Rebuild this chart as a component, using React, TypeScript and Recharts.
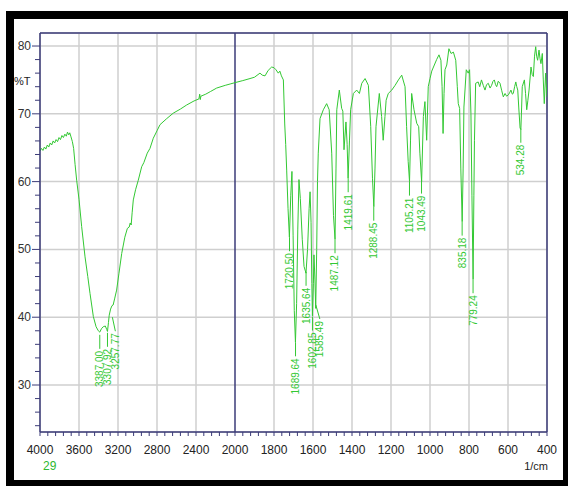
import React from 'react';
import { ComposedChart, Line, Scatter, XAxis, YAxis, CartesianGrid, ReferenceLine } from 'recharts';

// spectrum: wavenumber (1/cm) and %T
const waveNumbers = [
  4000, 3985, 3970, 3955, 3940, 3925, 3910, 3895, 3880, 3865, 3850, 3835, 3820, 3805, 3790, 3775, 3760, 3745, 3730, 3718,
  3705, 3695, 3682, 3668, 3655, 3640, 3624, 3600, 3573, 3538, 3510, 3487, 3453, 3425, 3402, 3387, 3370, 3351, 3330, 3316,
  3308, 3298, 3290, 3276, 3262, 3250, 3235, 3214, 3190, 3162, 3130, 3104, 3085, 3075, 3065, 3055, 3043, 3020, 2992, 2957,
  2935, 2900, 2872, 2838, 2800, 2769, 2700, 2633, 2560, 2496, 2420, 2370, 2362, 2356, 2350, 2300, 2250, 2188, 2100, 2050,
  2000, 1960, 1923, 1900, 1872, 1860, 1846, 1830, 1812, 1800, 1790, 1778, 1770, 1762, 1752, 1745, 1740, 1735, 1728, 1721,
  1714, 1708, 1702, 1696, 1690, 1684, 1678, 1672, 1665, 1655, 1646, 1636, 1628, 1620, 1615, 1610, 1606, 1603, 1598, 1595,
  1590, 1586, 1581, 1577, 1573, 1564, 1547, 1530, 1517, 1504, 1495, 1487, 1482, 1478, 1465, 1453, 1447, 1441, 1431, 1425,
  1420, 1413, 1407, 1393, 1376, 1362, 1350, 1333, 1316, 1304, 1295, 1288, 1282, 1277, 1260, 1248, 1240, 1231, 1225, 1214,
  1196, 1179, 1162, 1145, 1128, 1120, 1112, 1105, 1100, 1094, 1082, 1068, 1058, 1052, 1043, 1034, 1026, 1017, 1009, 1000,
  991, 966, 954, 944, 938, 933, 928, 923, 914, 903, 892, 880, 868, 860, 855, 848, 842, 835, 830, 826,
  814, 804, 797, 790, 785, 779, 775, 772, 766, 753, 745, 736, 727, 718, 710, 701, 692, 684, 677, 670,
  664, 658, 650, 641, 632, 624, 615, 607, 598, 590, 585, 578, 573, 566, 560, 555, 550, 545, 538, 534,
  530, 527, 516, 510, 504, 498, 492, 482, 476, 470, 464, 458, 453, 448, 441, 436, 431, 424, 419, 414,
  407, 403, 400,
];
const transmittance = [
  64.5, 64.9, 64.6, 65.1, 64.8, 65.4, 65.1, 65.7, 65.4, 66.0, 65.7, 66.2, 65.9, 66.5, 66.2, 66.8, 66.5, 67.0, 66.7, 67.3,
  66.9, 67.2, 66.6, 65.9, 64.9, 62.5, 60.2, 57.4, 53.4, 48.9, 46.0, 43.5, 40.1, 38.6, 38.0, 37.8, 38.3, 38.6, 38.7, 38.2,
  37.9, 39.2, 40.3, 41.2, 41.7, 41.8, 42.7, 44.0, 46.5, 49.4, 51.8, 53.1, 53.3, 53.9, 53.6, 55.4, 57.3, 58.8, 60.2, 62.2,
  62.8, 64.2, 64.9, 66.4, 67.5, 68.4, 69.3, 70.1, 70.7, 71.3, 71.9, 72.2, 72.9, 72.1, 72.6, 72.9, 73.3, 73.8, 74.2, 74.4,
  74.6, 74.9, 75.2, 75.4, 76.0, 75.7, 75.6, 76.4, 76.9, 76.8, 76.5, 76.0, 76.3, 75.6, 75.0, 68.5, 65.5, 61.7, 56.0, 51.8,
  58.0, 61.5, 52.0, 41.0, 36.3, 42.0, 53.0, 60.3, 57.5, 51.5, 47.5, 46.5, 50.0, 56.0, 58.5, 54.0, 45.0, 40.2, 45.0, 49.2,
  45.5, 41.3, 50.0, 60.0, 64.2, 69.3, 70.6, 71.5, 70.6, 64.2, 55.0, 51.5, 62.0, 70.6, 73.5, 70.8, 70.4, 64.7, 68.8, 65.5,
  60.5, 66.0, 70.6, 73.0, 73.5, 73.0, 74.5, 75.2, 74.2, 68.1, 60.5, 56.3, 62.0, 68.1, 73.0, 69.6, 66.1, 69.6, 72.0, 73.0,
  73.5, 74.2, 75.0, 75.7, 74.0, 68.1, 63.0, 60.0, 66.0, 73.0, 70.6, 68.6, 68.1, 64.2, 60.0, 69.6, 71.8, 66.1, 74.0, 75.2,
  76.3, 78.0, 78.7, 77.9, 74.0, 67.1, 73.0, 76.5, 77.2, 79.6, 78.9, 79.1, 77.9, 74.0, 71.5, 70.8, 62.0, 54.1, 62.0, 71.0,
  76.5, 76.0, 76.5, 70.0, 58.0, 45.6, 58.0, 66.1, 74.5, 74.7, 74.0, 75.0, 74.2, 73.5, 74.3, 74.5, 73.8, 74.2, 74.8, 75.0,
  74.3, 74.0, 74.8, 74.5, 73.4, 72.5, 73.0, 72.6, 72.8, 73.2, 73.5, 72.9, 73.0, 74.0, 74.7, 74.0, 73.5, 71.0, 67.9, 67.7,
  71.0, 74.0, 75.0, 73.0, 70.6, 72.0, 73.5, 76.9, 75.8, 75.5, 78.5, 79.9, 78.5, 77.9, 79.4, 78.2, 77.4, 78.9, 75.0, 71.5,
  76.0, 74.0, 72.5,
];

// picked peaks
const peakWaveNumbers = [3387.0, 3307.92, 3257.77, 1720.5, 1689.64, 1635.64, 1602.85, 1585.49, 1487.12, 1419.61, 1288.45, 1105.21, 1043.49, 835.18, 779.24, 534.28];
const peakLabels = ['3387.00', '3307.92', '3257.77', '1720.50', '1689.64', '1635.64', '1602.85', '1585.49', '1487.12', '1419.61', '1288.45', '1105.21', '1043.49', '835.18', '779.24', '534.28'];
const peakTransmittance = [37.4, 37.7, 40.0, 51.8, 36.3, 46.7, 40.1, 41.8, 51.5, 60.5, 56.3, 60.0, 60.3, 54.1, 45.6, 67.8];

const xTickLabels = ['4000', '3600', '3200', '2800', '2400', '2000', '1800', '1600', '1400', '1200', '1000', '800', '600', '400'];
const yTickLabels = [30, 40, 50, 60, 70, 80];

const Y_MIN = 23.07;
const Y_MAX = 81.92;
const AXIS = '#3b3b78';
const GREEN = '#33c833';
const FONT = '"Liberation Sans", Arial, sans-serif';

// labels pushed sideways by the instrument software so they don't collide
const labelNudge: Record<string, number> = { '3257.77': 3, '1585.49': 4 };

// the x scale is compressed above 2000: 400/div up to 2000, 200/div below
const toAxis = (w: number) => (w >= 2000 ? (4000 - w) / 400 : 5 + (2000 - w) / 200);

const spectrum = waveNumbers.map((w, i) => ({ u: toAxis(w), t: transmittance[i] }));
const peaks = peakWaveNumbers.map((w, i) => ({ u: toAxis(w), t: peakTransmittance[i], label: peakLabels[i] }));

const majorX = xTickLabels.map((l) => toAxis(Number(l)));
const xTicks: number[] = [];
for (let i = 0; i <= 65; i++) xTicks.push(Math.round(i * 20) / 100);
const yTicks: number[] = [];
for (let v = 24; v <= 80; v += 2) yTicks.push(v);

const XTick = ({ x, y, payload }: any) => {
  const idx = majorX.findIndex((m) => Math.abs(m - payload.value) < 1e-6);
  return (
    <g>
      <line x1={x} x2={x} y1={y} y2={y + 4} stroke={AXIS} strokeWidth={1} />
      {idx >= 0 && (
        <text x={x} y={y + 22} textAnchor="middle" fontSize={12} fontFamily={FONT} fill="#222">
          {xTickLabels[idx]}
        </text>
      )}
    </g>
  );
};

const YTick = ({ x, y, payload }: any) => {
  const major = yTickLabels.includes(payload.value);
  return (
    <g>
      <line x1={x - (major ? 8 : 5)} x2={x} y1={y} y2={y} stroke={AXIS} strokeWidth={1} />
      {major && (
        <text x={x - 9} y={y + 4} textAnchor="end" fontSize={12} fontFamily={FONT} fill="#333">
          {payload.value}
        </text>
      )}
    </g>
  );
};

const PeakMark = ({ cx, cy, payload }: any) => {
  const dx = labelNudge[payload.label] || 0;
  const ty = cy + 16;
  return (
    <g>
      <line x1={cx} y1={cy} x2={cx + dx} y2={cy + 14} stroke={GREEN} strokeWidth={1} />
      <text
        x={cx + dx}
        y={ty}
        transform={`rotate(-90 ${cx + dx} ${ty})`}
        textAnchor="end"
        dominantBaseline="central"
        fontSize={10}
        fontFamily={FONT}
        fill={GREEN}
      >
        {payload.label}
      </text>
    </g>
  );
};

export default function App() {
  return (
    <div style={{ position: 'relative', width: 568, height: 486, overflow: 'hidden', background: '#fff' }}>
      <style>{'body{margin:0}'}</style>
      <div
        style={{
          position: 'absolute',
          left: 6,
          top: 11,
          width: 565,
          height: 477,
          boxSizing: 'border-box',
          border: '8px solid #000',
        }}
      />
      <div style={{ position: 'absolute', left: 0, top: 0 }}>
        <ComposedChart width={568} height={486} data={spectrum} margin={{ top: 33, right: 21, bottom: 24, left: 0 }}>
          <XAxis xAxisId="grid" type="number" dataKey="u" domain={[0, 13]} ticks={[1, 2, 3, 4, 6, 7, 8, 9, 10, 11, 12]} allowDataOverflow hide />
          <YAxis yAxisId="grid" type="number" domain={[Y_MIN, Y_MAX]} ticks={yTickLabels} allowDataOverflow hide />
          <CartesianGrid xAxisId="grid" yAxisId="grid" stroke="#cfcfcf" strokeWidth={1.5} />
          <XAxis
            type="number"
            dataKey="u"
            domain={[0, 13]}
            ticks={xTicks}
            interval={0}
            allowDataOverflow
            height={30}
            tickSize={0}
            tickMargin={0}
            tickLine={false}
            axisLine={{ stroke: AXIS, strokeWidth: 1.5 }}
            tick={<XTick />}
          />
          <YAxis
            type="number"
            domain={[Y_MIN, Y_MAX]}
            ticks={yTicks}
            interval={0}
            allowDataOverflow
            width={40}
            tickSize={0}
            tickMargin={0}
            tickLine={false}
            axisLine={{ stroke: AXIS, strokeWidth: 1.5 }}
            tick={<YTick />}
          />
          <ReferenceLine x={5} stroke={AXIS} strokeWidth={1.5} />
          <ReferenceLine x={13} stroke={AXIS} strokeWidth={1.5} />
          <ReferenceLine y={Y_MAX} stroke={AXIS} strokeWidth={1.5} />
          <Line
            type="linear"
            dataKey="t"
            stroke={GREEN}
            strokeWidth={1}
            dot={false}
            activeDot={false}
            isAnimationActive={false}
          />
          <Scatter data={peaks} dataKey="t" shape={<PeakMark />} isAnimationActive={false} />
        </ComposedChart>
      </div>
      <svg width={568} height={486} style={{ position: 'absolute', left: 0, top: 0, pointerEvents: 'none' }}>
        <text x={14} y={85} fontSize={11} fontFamily={FONT} fill="#222">%T</text>
        <text x={43} y={470} fontSize={12} fontFamily={FONT} fill="#2fb82f">29</text>
        <text x={548} y={470} textAnchor="end" fontSize={11} fontFamily={FONT} fill="#222">1/cm</text>
      </svg>
    </div>
  );
}
